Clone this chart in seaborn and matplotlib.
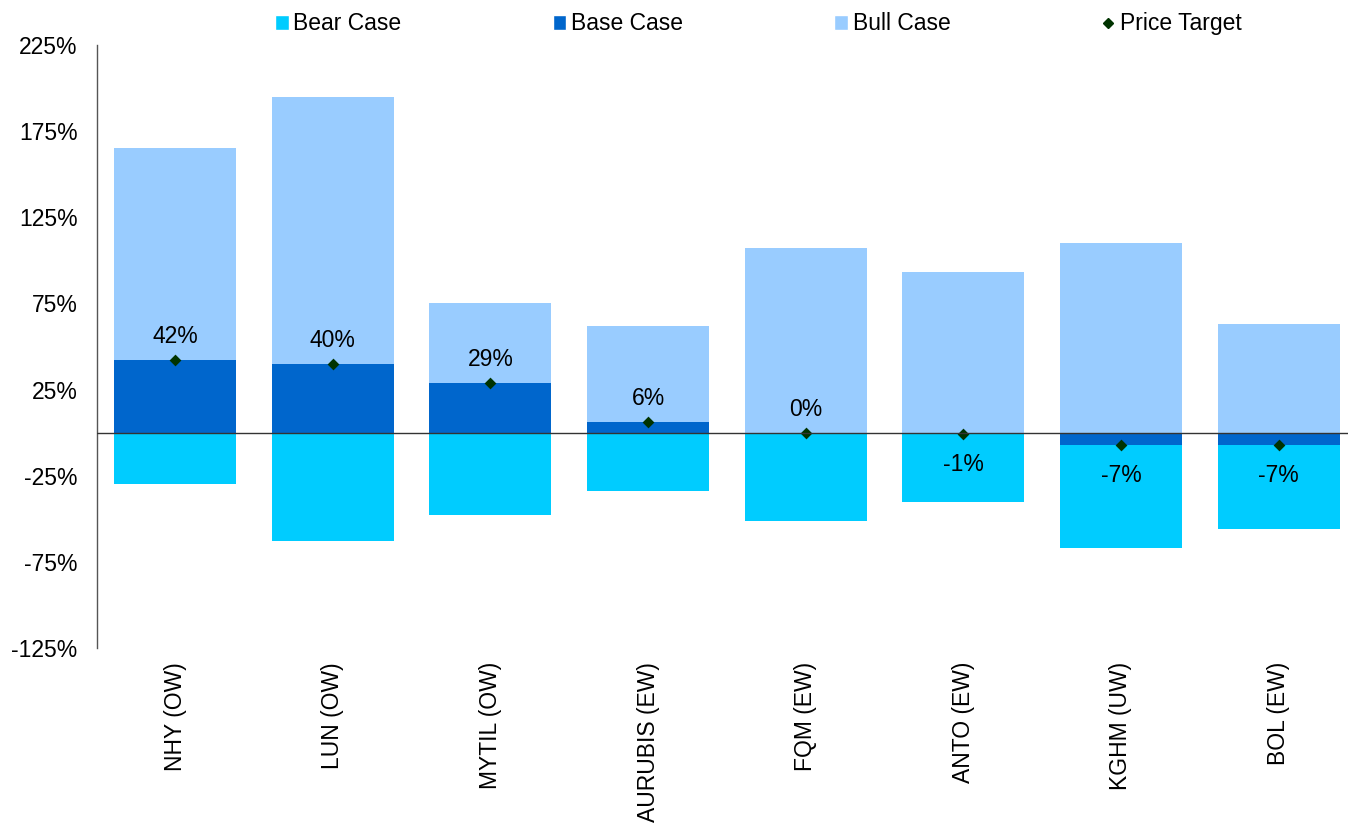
import matplotlib
matplotlib.use("Agg")
import matplotlib.pyplot as plt
import seaborn as sns
import pandas as pd
from matplotlib.patches import Patch
from matplotlib.lines import Line2D
from matplotlib.ticker import FixedLocator

categories = ["NHY (OW)", "LUN (OW)", "MYTIL (OW)", "AURUBIS (EW)", "FQM (EW)",
              "ANTO (EW)", "KGHM (UW)", "BOL (EW)"]
bear_case = [-30, -63, -48, -34, -51, -40, -67, -56]
base_case = [42, 40, 29, 6, 0, -1, -7, -7]
bull_case = [165, 195, 75, 62, 107, 93, 110, 63]
price_target = [42, 40, 29, 6, 0, -1, -7, -7]
y_ticks = [-125, -75, -25, 25, 75, 125, 175, 225]

sns.set_theme(style="white")
plt.rcParams["font.family"] = ["Liberation Sans", "DejaVu Sans"]
plt.rcParams["text.color"] = "black"
plt.rcParams["xtick.color"] = "black"
plt.rcParams["ytick.color"] = "black"

fig = plt.figure(figsize=(13.48, 8.25), dpi=100)
ax = fig.add_axes([0.072, 0.2145, 0.928, 0.731])

bear_c, base_c, bull_c, pt_c = "#00CCFF", "#0066CC", "#99CCFF", "#003300"
w = 0.775
fs = 16.5
sns.barplot(x=categories, y=bull_case, color=bull_c, width=w, ax=ax, saturation=1,
            order=categories, linewidth=0)
sns.barplot(x=categories, y=bear_case, color=bear_c, width=w, ax=ax, saturation=1,
            order=categories, linewidth=0)
sns.barplot(x=categories, y=base_case, color=base_c, width=w, ax=ax, saturation=1,
            order=categories, linewidth=0)
sns.stripplot(x=categories, y=price_target, jitter=False, marker="D", color=pt_c, size=6,
              ax=ax, order=categories, zorder=5)

for i, v in enumerate(price_target):
    off = 17 if v >= 0 else -22
    ax.annotate(f"{v}%", (i, v), xytext=(0, off), textcoords="offset points",
                ha="center", va="center", fontsize=fs, color="black")

ax.axhline(0, color="#333333", lw=1, zorder=6)
ax.set_ylim(-125, 225)
ax.set_xlim(-0.495, 7.44)
ax.yaxis.set_major_locator(FixedLocator(y_ticks))
ax.set_yticklabels([f"{t}%" for t in y_ticks], fontsize=fs)
ax.set_xticks(range(len(categories)))
ax.set_xticklabels(categories, rotation=90, fontsize=fs)
ax.tick_params(axis="y", length=0, pad=14)
ax.tick_params(axis="x", length=0, pad=10)
for s in ["top", "right", "bottom"]:
    ax.spines[s].set_visible(False)
ax.spines["left"].set_color("#555555")
ax.spines["left"].set_linewidth(1)
ax.set_xlabel("")
ax.set_ylabel("")
ax.grid(False)

handles = [
    Patch(facecolor=bear_c, label="Bear Case"),
    Patch(facecolor=base_c, label="Base Case"),
    Patch(facecolor=bull_c, label="Bull Case"),
    Line2D([], [], marker="D", color=pt_c, linestyle="none", markersize=5, label="Price Target"),
]
fig.legend(handles=handles, loc="center", bbox_to_anchor=(0.5625, 0.971), ncol=4, frameon=False,
           fontsize=fs, handlelength=0.6, handleheight=0.6, handletextpad=0.2, columnspacing=6.6)

fig.savefig("out.png", dpi=100)
